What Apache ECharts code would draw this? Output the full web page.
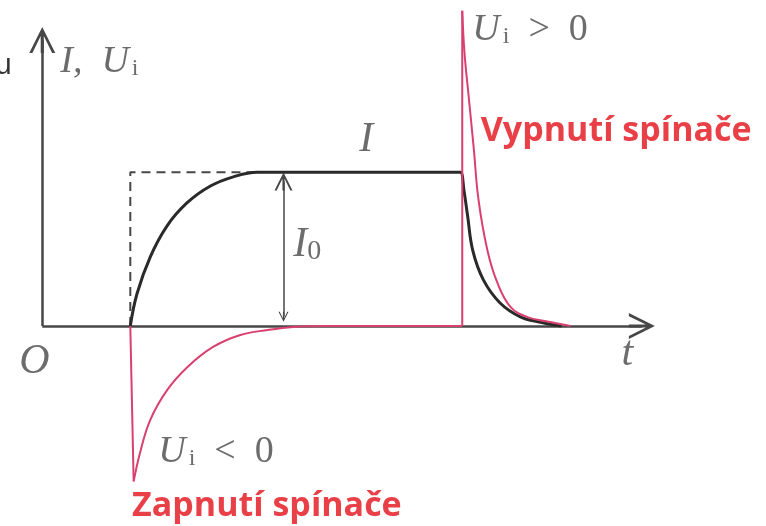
<!DOCTYPE html>
<html>
<head>
<meta charset="utf-8">
<title>I, Ui - zapnutí a vypnutí spínače</title>
<script src="https://cdn.jsdelivr.net/npm/echarts@6/dist/echarts.min.js"></script>
<style>
html, body { margin: 0; padding: 0; background: #fff; }
#main { width: 766px; height: 526px; }
</style>
</head>
<body>
<div id="main"></div>
<script>
// proud I (černá): náběh po zapnutí, ustálená hodnota I0, pokles po vypnutí
const currentI = [[1.0, 0], [1.076, 0.21], [1.227, 0.45], [1.416, 0.65], [1.643, 0.80], [1.91, 0.91],
  [2.17, 0.97], [2.44, 1.0], [2.8, 1.0], [4.7, 1.0], [4.75, 1.0], [4.79, 0.88], [4.83, 0.72], [4.89, 0.49],
  [5.01, 0.30], [5.20, 0.15], [5.43, 0.06], [5.66, 0.025], [5.9, 0]]
// indukované napětí Ui (červená) - zapnutí
const uiOnStep = [[1.0, 0], [1.038, -1.01]]
const uiOnDecay = [[1.038, -1.01], [1.11, -0.825], [1.227, -0.61], [1.42, -0.415], [1.65, -0.266],
  [1.94, -0.136], [2.25, -0.058], [2.56, -0.026], [2.85, -0.006], [3.2, 0], [4.77, 0]]
// Ui - vypnutí
const uiOffStep = [[4.77, 0], [4.77, 2.05]]
const uiOffDecay = [[4.77, 2.05], [4.795, 1.78], [4.84, 1.51], [4.90, 1.16], [4.955, 0.82], [5.057, 0.49],
  [5.17, 0.28], [5.32, 0.123], [5.51, 0.058], [5.74, 0.03], [6.0, 0]]
// čárkovaná pomocná čára (ideální skok proudu)
const dashGuide = [[1.0, 0], [1.0, 1.0], [2.5, 1.0]]
// osy a šipka I0
const axisT = [[0, 0], [6.81, 0]]
const axisU = [[0, 0], [0, 1.86]]
const arrowI0 = [[2.74, 0.06], [2.74, 0.94]]
// popisky [t, v, text]
const notes = [
  [-0.53, 1.69, '{u|u}'],
  [0.204, 1.717, '{m|I}{m|,  }{m|U}{s|i}'],
  [3.60, 1.209, '{mb|I}'],
  [2.851, 0.527, '{mb|I}{sb|0}'],
  [-0.26, -0.234, '{mb|O}'],
  [6.58, -0.182, '{mb|t}'],
  [4.884, 1.925, '{m|U}{s|i}{r|  >  0}'],
  [4.98, 1.268, '{red|Vypnutí spínače}'],
  [1.317, -0.82, '{m|U}{s|i}{r|  <  0}'],
  [1.02, -1.17, '{red|Zapnutí spínače}']
]

const gray = '#474747'
const pink = '#d9406f'
const arrowPath = 'path://M10,0 L20,26 L17.6,26 L11.2,9 L11.2,26 L8.8,26 L8.8,9 L2.4,26 L0,26 Z'
const serif = '"Liberation Serif", "DejaVu Serif", serif'

function curve (data, color, width, smooth, z) {
  return {
    type: 'line', data: data, symbol: 'none', smooth: smooth,
    lineStyle: { color: color, width: width }, z: z, silent: true
  }
}
function arrow (coords, both, size, width) {
  return {
    type: 'lines', coordinateSystem: 'cartesian2d', polyline: false, z: 2, silent: true,
    symbol: [both ? arrowPath : 'none', arrowPath], symbolSize: size,
    lineStyle: { color: gray, width: width, opacity: 1 },
    data: [{ coords: coords }]
  }
}

let myChart = echarts.init(document.getElementById('main'))
myChart.setOption({
  animation: false,
  backgroundColor: '#fff',
  grid: { left: 0, right: 0, top: 3, bottom: 0 },
  xAxis: { type: 'value', min: -0.48, max: 8.22, show: false },
  yAxis: { type: 'value', min: -1.3, max: 2.1, show: false },
  series: [
    arrow(axisT, false, [16, 26], 2.5),
    arrow(axisU, false, [15, 26], 2.5),
    arrow(arrowI0, true, [10, 18], 1.5),
    {
      type: 'line', data: dashGuide, symbol: 'none', z: 2, silent: true,
      lineStyle: { color: gray, width: 2, type: [9, 6] }
    },
    curve(currentI, '#2a2a2a', 3, 0.4, 3),
    curve(uiOnStep, pink, 2, false, 4),
    curve(uiOnDecay, pink, 2, 0.4, 4),
    curve(uiOffStep, pink, 2, false, 4),
    curve(uiOffDecay, pink, 2, 0.4, 4),
    {
      type: 'scatter', data: notes, symbolSize: 0, z: 5, silent: true, clip: false,
      label: {
        show: true, position: [0, 0], align: 'left', verticalAlign: 'middle',
        formatter: p => p.data[2],
        rich: {
          u: { fontFamily: '"Liberation Sans", sans-serif', fontSize: 29, color: '#000' },
          m: { fontFamily: serif, fontStyle: 'italic', fontSize: 38, color: gray },
          r: { fontFamily: serif, fontSize: 38, color: gray },
          s: { fontFamily: serif, fontSize: 24, color: gray, verticalAlign: 'bottom', padding: [0, 0, 0, 3] },
          mb: { fontFamily: serif, fontStyle: 'italic', fontSize: 42, color: gray },
          sb: { fontFamily: serif, fontSize: 28, color: gray, verticalAlign: 'bottom' },
          red: { fontFamily: '"Open Sans", sans-serif', fontWeight: 'bold', fontSize: 34, color: '#e3101a' }
        }
      }
    }
  ]
})
</script>
</body>
</html>
